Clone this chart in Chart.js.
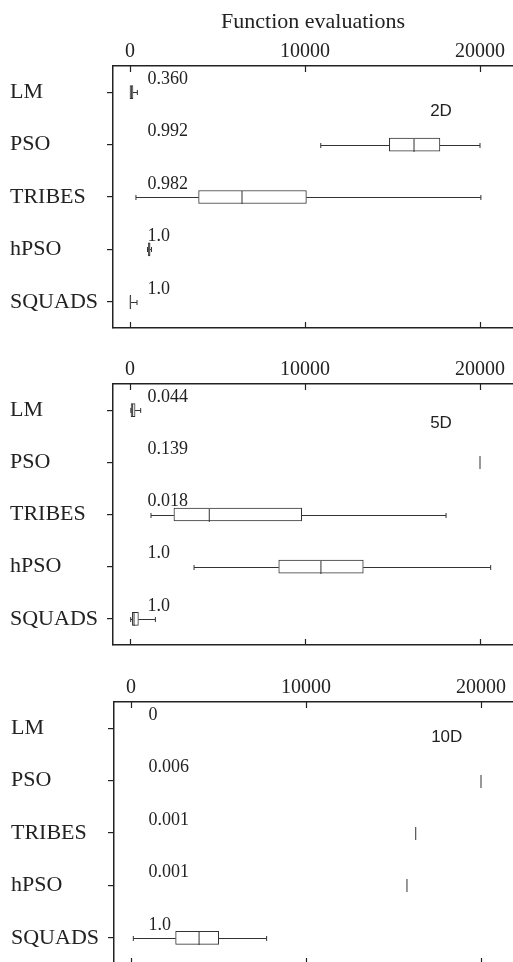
<!DOCTYPE html>
<html>
<head>
<meta charset="utf-8">
<script src="https://cdn.jsdelivr.net/npm/chart.js@4/dist/chart.umd.min.js"></script>
<style>
    html, body { margin: 0; padding: 0; background: #fff; overflow: hidden; }
    .panel { position: absolute; left: 0; width: 513px; }
</style>
</head>
<body>
<div class="panel" style="top:0;height:348px"><canvas id="chart2D"></canvas></div>
<div class="panel" style="top:340px;height:325px"><canvas id="chart5D"></canvas></div>
<div class="panel" style="top:655px;left:1px;height:329px"><canvas id="chart10D"></canvas></div>
<script>
// categories (rows, top to bottom)
const categories = ['LM', 'PSO', 'TRIBES', 'hPSO', 'SQUADS'];

// x axis tick values
const xTicks = [0, 10000, 20000];

// five-number summaries per row: [min, q1, median, q3, max]
const stats2D = [
    [0, 0, 80, 170, 420],
    [10900, 14820, 16230, 17710, 20000],
    [340, 3920, 6400, 10080, 20050],
    [1000, 1050, 1100, 1150, 1230],
    [0, 0, 20, 50, 400]
];
const stats5D = [
    [50, 60, 150, 290, 610],
    [20000, 20000, 20000, 20000, 20000],
    [1200, 2510, 4530, 9810, 18060],
    [3660, 8500, 10910, 13330, 20610],
    [40, 130, 230, 480, 1450]
];
const stats10D = [
    null,
    [20000, 20000, 20000, 20000, 20000],
    [16270, 16270, 16270, 16270, 16270],
    [15770, 15770, 15770, 15770, 15770],
    [133, 2550, 3890, 5010, 7750]
];

// success rates printed above each row
const rates2D = ['0.360', '0.992', '0.982', '1.0', '1.0'];
const rates5D = ['0.044', '0.139', '0.018', '1.0', '1.0'];
const rates10D = ['0', '0.006', '0.001', '0.001', '1.0'];

const serif = 'Liberation Serif';
const ink = '#222';
const boxInk = '#333';

// 175 px per 10000, plot area from x=113 to x=513 with 0 at x=130
const xMin = -(130 - 113) / 0.0175;
const xMax = (513 - 130) / 0.0175;

const boxPlugin = (stats, rates, panelName, namePos) => ({
    id: 'boxWhiskers',
    afterDatasetsDraw(chart) {
        const { ctx, chartArea, scales: { x, y } } = chart;
        ctx.save();

        // inward ticks on top and bottom axes
        ctx.strokeStyle = ink;
        ctx.lineWidth = 1.2;
        x.ticks.forEach(t => {
            const px = Math.round(x.getPixelForValue(t.value)) + 0.5;
            ctx.beginPath();
            ctx.moveTo(px, chartArea.top);
            ctx.lineTo(px, chartArea.top + 6);
            ctx.moveTo(px, chartArea.bottom);
            ctx.lineTo(px, chartArea.bottom - 6);
            ctx.stroke();
        });

        // whiskers and medians
        ctx.strokeStyle = boxInk;
        ctx.lineWidth = 1;
        stats.forEach((s, i) => {
            if (!s) return;
            const yc = Math.round(y.getPixelForValue(i)) + 0.5;
            const [lo, q1, med, q3, hi] = s.map(v => x.getPixelForValue(v));
            ctx.beginPath();
            if (lo < q1) {
                ctx.moveTo(lo, yc); ctx.lineTo(q1, yc);
                ctx.moveTo(lo, yc - 2.5); ctx.lineTo(lo, yc + 2.5);
            }
            if (hi > q3) {
                ctx.moveTo(q3, yc); ctx.lineTo(hi, yc);
                ctx.moveTo(hi, yc - 2.5); ctx.lineTo(hi, yc + 2.5);
            }
            ctx.moveTo(med, yc - 6.5); ctx.lineTo(med, yc + 6.5);
            ctx.stroke();
        });

        // success rates
        ctx.fillStyle = ink;
        ctx.font = `18px "${serif}"`;
        ctx.textAlign = 'left';
        ctx.textBaseline = 'middle';
        rates.forEach((r, i) => {
            ctx.fillText(r, x.getPixelForValue(1000), y.getPixelForValue(i) - 13);
        });

        // panel name
        ctx.font = '17px "Liberation Sans"';
        ctx.fillText(panelName, x.getPixelForValue(17150), y.getPixelForValue(namePos));
        ctx.restore();
    }
});

const makeChart = (id, stats, rates, panelName, namePos, topHeight, title) => {
    new Chart(document.getElementById(id), {
        type: 'bar',
        data: {
            labels: categories,
            datasets: [{
                data: stats.map(s => s ? [s[1], s[3]] : null),
                backgroundColor: '#fff',
                borderColor: boxInk,
                borderWidth: 1,
                borderSkipped: false,
                barThickness: 13
            }]
        },
        options: {
            indexAxis: 'y',
            responsive: true,
            maintainAspectRatio: false,
            animation: false,
            layout: { padding: { left: 10, right: 0, top: 0, bottom: 0 } },
            plugins: { legend: { display: false }, tooltip: { enabled: false } },
            scales: {
                x: {
                    type: 'linear',
                    position: 'top',
                    min: xMin,
                    max: xMax,
                    afterBuildTicks: s => { s.ticks = xTicks.map(v => ({ value: v })); },
                    afterFit: s => { s.height = topHeight; },
                    grid: { display: false, drawTicks: false },
                    border: { display: true, color: ink, width: 1.5 },
                    ticks: {
                        padding: 2,
                        color: ink,
                        autoSkip: false,
                        maxRotation: 0,
                        font: { family: serif, size: 20 },
                        callback: v => String(v)
                    },
                    title: {
                        display: !!title,
                        text: title || '',
                        color: ink,
                        font: { family: serif, size: 22 },
                        padding: { top: 9, bottom: 0 }
                    }
                },
                x2: {
                    type: 'linear',
                    position: 'bottom',
                    min: xMin,
                    max: xMax,
                    afterFit: s => { s.height = 20; },
                    grid: { display: false, drawTicks: false },
                    border: { display: true, color: ink, width: 1.5 },
                    ticks: { display: false }
                },
                y: {
                    type: 'category',
                    position: 'left',
                    offset: true,
                    afterFit: s => { s.width = 103; },
                    grid: { display: true, drawOnChartArea: false, drawTicks: true, tickLength: 6, offset: false, color: ink, lineWidth: 1.2 },
                    border: { display: true, color: ink, width: 1.5 },
                    ticks: { crossAlign: 'far', color: ink, font: { family: serif, size: 22 } }
                }
            }
        },
        plugins: [boxPlugin(stats, rates, panelName, namePos)]
    });
};

makeChart('chart2D', stats2D, rates2D, '2D', 0.36, 66, 'Function evaluations');
makeChart('chart5D', stats5D, rates5D, '5D', 0.25, 44);
makeChart('chart10D', stats10D, rates10D, '10D', 0.17, 47);
</script>
</body>
</html>
